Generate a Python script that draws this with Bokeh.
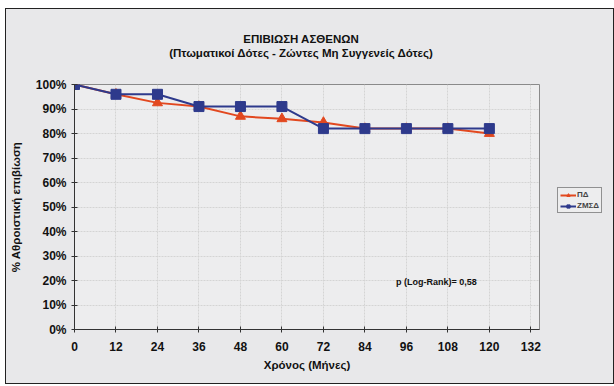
from bokeh.plotting import figure
from bokeh.layouts import row, column
from bokeh.models import (FixedTicker, PrintfTickFormatter, Range1d, Label,
                          Legend, LegendItem, Div)
from bokeh.embed import file_html
from bokeh.resources import INLINE

months = [0, 12, 24, 36, 48, 60, 72, 84, 96, 108, 120]
pd_surv = [100, 96, 92.5, 91, 87, 86, 84.5, 82, 82, 82, 80]
zmsd_surv = [100, 96, 96, 91, 91, 91, 82, 82, 82, 82, 82]
x_ticks = [0, 12, 24, 36, 48, 60, 72, 84, 96, 108, 120, 132]
y_ticks = [0, 10, 20, 30, 40, 50, 60, 70, 80, 90, 100]
series_names = ["ΠΔ", "ΖΜΣΔ"]
title_lines = ["ΕΠΙΒΙΩΣΗ ΑΣΘΕΝΩΝ",
               "(Πτωματικοί Δότες - Ζώντες Μη Συγγενείς Δότες)"]

FONT = "Liberation Sans"
RED = "#e2481f"
BLUE = "#2e3a8c"
BG = "#e8e8ea"

title_div = Div(
    text=("<div style=\"width:490px;margin-left:50px;padding-top:23px;"
          "text-align:center;font-family:'Liberation Sans';font-size:11.5px;"
          "font-weight:bold;line-height:14px;color:#111111;\">"
          + title_lines[0] + "<br>" + title_lines[1] + "</div>"),
    width=540, height=60, margin=0,
    styles={"background-color": BG})

p = figure(width=540, height=314, output_backend="svg", toolbar_location=None,
           x_range=Range1d(0, 134.5), y_range=Range1d(0, 100),
           min_border_left=68, min_border_right=7, min_border_top=15,
           min_border_bottom=54)
p.margin = 0
p.background_fill_color = "#ededee"
p.border_fill_color = BG
p.outline_line_color = "#8a8a8a"

p.xaxis.ticker = FixedTicker(ticks=x_ticks)
p.yaxis.ticker = FixedTicker(ticks=y_ticks)
p.yaxis.formatter = PrintfTickFormatter(format="%d%%")
for ax in (p.xaxis[0], p.yaxis[0]):
    ax.axis_line_color = "#333333"
    ax.major_tick_line_color = "#333333"
    ax.major_tick_in = 3
    ax.major_tick_out = 3
    ax.minor_tick_line_color = None
    ax.major_label_text_font = FONT
    ax.major_label_text_font_size = "12px"
    ax.major_label_text_font_style = "bold"
    ax.major_label_text_color = "#111111"
    ax.axis_label_text_font = FONT
    ax.axis_label_text_font_size = "11.5px"
    ax.axis_label_text_font_style = "bold"
    ax.axis_label_text_color = "#111111"
p.xaxis.major_label_standoff = 9
p.xaxis.axis_label = "Χρόνος (Μήνες)"
p.xaxis.axis_label_standoff = 5
p.yaxis.axis_label = "% Αθροιστική επιβίωση"
p.yaxis.axis_label_standoff = 11
p.grid.grid_line_color = "#d4d4d4"
p.grid.grid_line_dash = "2 1"

p.line(months, pd_surv, color=RED, line_width=2)
p.scatter(months, pd_surv, marker="triangle", size=10, color=RED)
p.line(months, zmsd_surv, color=BLUE, line_width=2)
p.scatter(months, zmsd_surv, marker="square", size=10, color=BLUE)

p.add_layout(Label(x=93, y=17.5, text="p (Log-Rank)= 0,58", text_font=FONT,
                   text_font_size="9px", text_font_style="bold",
                   text_color="#111111"))

# legend panel: a small figure whose view range hides the series,
# so only its legend is visible
lf = figure(width=67, height=374, output_backend="svg", toolbar_location=None,
            x_axis_type=None, y_axis_type=None,
            x_range=Range1d(1000, 1001), y_range=Range1d(1000, 1001),
            min_border_left=0, min_border_right=0, min_border_top=0,
            min_border_bottom=0)
lf.margin = 0
lf.background_fill_color = BG
lf.border_fill_color = BG
lf.outline_line_color = None
lf.grid.visible = False
l1 = lf.line(months, pd_surv, color=RED, line_width=2)
m1 = lf.scatter(months, pd_surv, marker="triangle", size=6, color=RED)
l2 = lf.line(months, zmsd_surv, color=BLUE, line_width=2)
m2 = lf.scatter(months, zmsd_surv, marker="square", size=6, color=BLUE)
legend = Legend(items=[LegendItem(label=series_names[0], renderers=[l1, m1]),
                       LegendItem(label=series_names[1], renderers=[l2, m2])],
                location=(11, 170))
legend.label_text_font = FONT
legend.label_text_font_size = "8px"
legend.label_text_font_style = "bold"
legend.glyph_width = 16
legend.glyph_height = 8
legend.label_height = 8
legend.spacing = 2
legend.padding = 2
legend.margin = 0
legend.label_standoff = 1
legend.border_line_color = "#333333"
legend.background_fill_color = "#ededee"
legend.background_fill_alpha = 1
lf.add_layout(legend)

layout = row(column(title_div, p, spacing=0), lf, spacing=0)
layout.margin = (8, 0, 0, 5)
layout.styles = {"border": "1px solid #222", "background-color": BG}
open("out.html", "w").write(file_html(layout, INLINE))
